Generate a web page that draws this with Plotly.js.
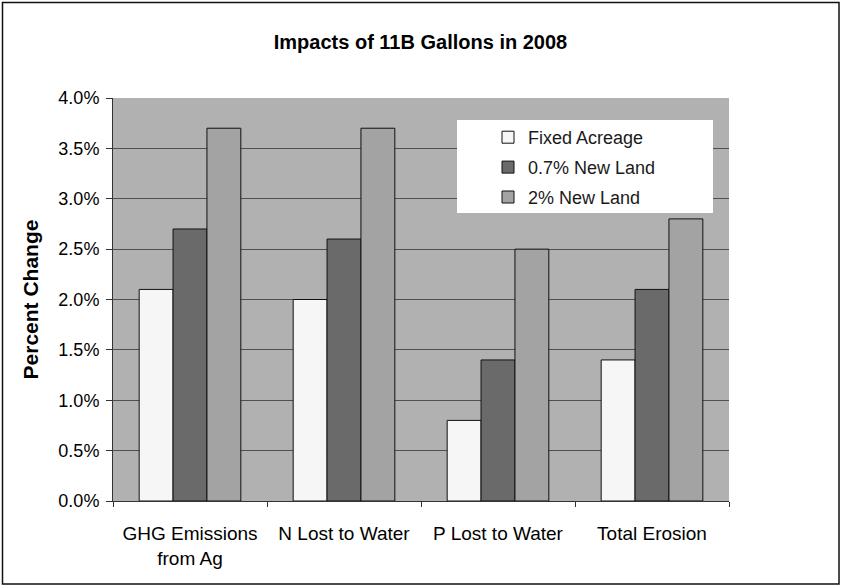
<!DOCTYPE html>
<html>
<head>
<meta charset="utf-8">
<script src="https://cdn.plot.ly/plotly-3.0.1.min.js"></script>
<style>
  html, body { margin: 0; padding: 0; background: #ffffff; }
  #chart { width: 841px; height: 586px; }
</style>
</head>
<body>
<div id="chart"></div>
<script>
// Data
const categories = ["GHG Emissions<br>from Ag", "N Lost to Water", "P Lost to Water", "Total Erosion"];
const seriesNames = ["Fixed Acreage", "0.7% New Land", "2% New Land"];
const fixedAcreage = [0.021, 0.020, 0.008, 0.014];
const newLand07 = [0.027, 0.026, 0.014, 0.021];
const newLand2 = [0.037, 0.037, 0.025, 0.028];
const yTickVals = [0, 0.005, 0.01, 0.015, 0.02, 0.025, 0.03, 0.035, 0.04];
const yTickText = ["0.0%", "0.5%", "1.0%", "1.5%", "2.0%", "2.5%", "3.0%", "3.5%", "4.0%"];

const seriesValues = [fixedAcreage, newLand07, newLand2];
const fills = ["#f6f6f6", "#6a6a6a", "#a3a3a3"];

const traces = seriesValues.map((vals, i) => ({
  type: "bar",
  name: seriesNames[i],
  legendgroup: "g" + i,
  x: categories,
  y: vals,
  marker: { color: fills[i], line: { color: "#111111", width: 1 } },
  hoverinfo: "skip"
}));

const font = "Liberation Sans, Arial, sans-serif";
const W = 841, H = 586;
const L = 113, R = 729, T = 98, B = 501;
const pw = R - L, ph = B - T;
const px = v => (v - L) / pw;
const py = v => (B - v) / ph;

const layout = {
  width: W,
  height: H,
  margin: { l: L, r: W - R, t: T, b: H - B, pad: 0 },
  paper_bgcolor: "#ffffff",
  plot_bgcolor: "#b1b1b1",
  font: { family: font, color: "#000000", size: 17 },
  title: {
    text: "<b>Impacts of 11B Gallons in 2008</b>",
    font: { family: font, size: 20, color: "#000000" },
    x: 0.5, xanchor: "center", xref: "container",
    y: 1 - 42 / H, yanchor: "middle", yref: "container"
  },
  barmode: "group",
  bargap: 0.34,
  bargroupgap: 0,
  showlegend: true,
  legend: {
    x: px(488), y: py(119), xanchor: "left", yanchor: "top",
    bgcolor: "rgba(0,0,0,0)", borderwidth: 0,
    font: { family: font, size: 18, color: "#1a1a1a" },
    traceorder: "grouped",
    tracegroupgap: 3.5,
    itemwidth: 30
  },
  xaxis: {
    type: "category",
    showgrid: false,
    showline: true, linecolor: "#333333", linewidth: 1,
    ticks: "outside", tickson: "boundaries", ticklen: 5, tickcolor: "#333333",
    tickfont: { family: font, size: 19, color: "#000000" },
    ticklabelstandoff: 15,
    zeroline: false,
    fixedrange: true
  },
  yaxis: {
    range: [0, 0.04],
    tickvals: yTickVals,
    ticktext: yTickText,
    showgrid: true, gridcolor: "#505050", gridwidth: 1,
    showline: true, linecolor: "#333333", linewidth: 1,
    ticks: "outside", ticklen: 6, tickcolor: "#333333",
    tickfont: { family: font, size: 18, color: "#000000" },
    ticklabelstandoff: 3,
    zeroline: false,
    title: {
      text: "<b>Percent Change</b>",
      font: { family: font, size: 21, color: "#000000" },
      standoff: 14
    },
    automargin: false,
    fixedrange: true
  },
  shapes: [
    {
      type: "rect", xref: "paper", yref: "paper",
      x0: px(457), x1: px(713), y0: py(213), y1: py(120),
      line: { width: 0 },
      fillcolor: "#ffffff",
      layer: "above"
    },
    {
      type: "rect", xref: "paper", yref: "paper",
      x0: px(2.5), x1: px(839), y0: py(584), y1: py(2.5),
      line: { color: "#111111", width: 1.5 },
      fillcolor: "rgba(0,0,0,0)",
      layer: "below"
    }
  ]
};

Plotly.newPlot("chart", traces, layout, { displayModeBar: false, staticPlot: true });
</script>
</body>
</html>
